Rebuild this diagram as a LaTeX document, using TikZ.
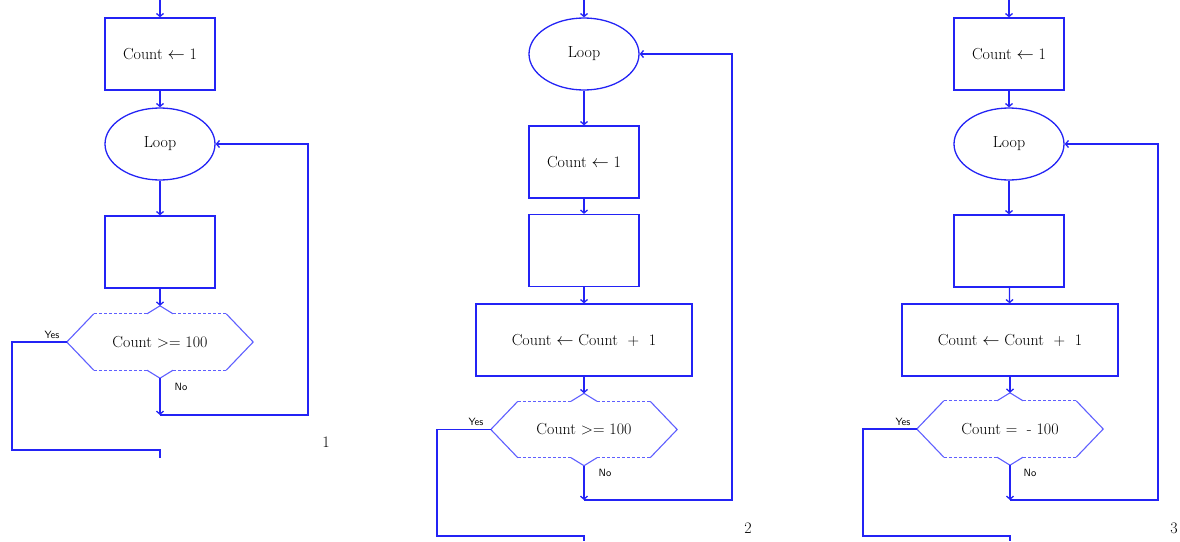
\documentclass[tikz,border=0pt]{standalone}
\usetikzlibrary{shapes.geometric,arrows.meta,calc}
\definecolor{ln}{RGB}{35,35,245}
\definecolor{hx}{RGB}{95,95,255}
\newcommand\drawhex[1]{%
 \draw[hx,line width=1pt,dash pattern=on 3pt off 2pt] (#1.north west) -- ($(#1.north)+(-13,0)$) ($(#1.north)+(13,0)$) -- (#1.north east) (#1.south west) -- ($(#1.south)+(-13,0)$) ($(#1.south)+(13,0)$) -- (#1.south east);
 \draw[hx,line width=1.1pt] (#1.north west) -- ($(#1.west)+(-27,0)$) -- (#1.south west) (#1.north east) -- ($(#1.east)+(27,0)$) -- (#1.south east) ($(#1.north)+(-13,0)$) -- ($(#1.north)+(0,-8)$) -- ($(#1.north)+(13,0)$) ($(#1.south)+(-13,0)$) -- ($(#1.south)+(0,8)$) -- ($(#1.south)+(13,0)$);
 \coordinate (#1t) at ($(#1.north)+(0,-8)$);
 \coordinate (#1b) at ($(#1.south)+(0,8)$);
 \coordinate (#1w) at ($(#1.west)+(-27,0)$);
}
\begin{document}
\begin{tikzpicture}[x=1pt,y=-1pt,
  lab/.style={font=\fontsize{16}{19}\selectfont},
  procbox/.style={draw=ln,line width=1.3pt,rectangle,inner sep=0pt,minimum width=110pt,minimum height=72pt,lab},
  widebox/.style={procbox,minimum width=216pt},
  oval/.style={draw=ln,line width=1.3pt,ellipse,inner sep=0pt,minimum width=110pt,minimum height=72pt,lab},
  hexa/.style={rectangle,inner sep=0pt,minimum width=132pt,minimum height=56pt,lab},
  con/.style={draw=ln,line width=1.3pt},
  arr/.style={con,-{Straight Barb[length=3pt,width=7pt]}},
  yn/.style={font=\sffamily\fontsize{10.5}{12}\selectfont,inner sep=0pt},
  num/.style={font=\fontsize{16}{19}\selectfont,inner sep=0pt}]
\useasboundingbox (0,0) rectangle (1180,541);

% ---------- diagram 1 ----------
\coordinate (s1) at (160,0);
\node[procbox] (a1) at (160,54) {Count $\leftarrow$ 1};
\node[oval] (l1) at (160,144) {Loop};
\node[procbox] (e1) at (160,252) {};
\node[hexa] (h1) at (160,342) {Count \textgreater= 100};
\drawhex{h1}
\draw[arr] (s1) -- (a1.north);
\draw[arr] (a1) -- (l1);
\draw[arr] (l1) -- (e1);
\draw[arr] (e1) -- (h1t);
\coordinate (n1) at (160,415);
\coordinate (r1) at (308,415);
\draw[arr] (h1b) -- (n1);
\draw[arr] (n1) -- (r1) |- (l1.east);
\coordinate (y1a) at (12,342);
\coordinate (y1b) at (12,450);
\coordinate (y1c) at (160,450);
\coordinate (y1d) at (160,458);
\draw[con] (h1w) -- (y1a) -- (y1b) -- (y1c) -- (y1d);
\node[yn] (ye1) at (52,335) {Yes};
\node[yn] (no1) at (181,387) {No};
\node[num] (nm1) at (326,442) {1};

% ---------- diagram 2 ----------
\coordinate (s2) at (584,0);
\node[oval] (l2) at (584,54) {Loop};
\node[procbox] (a2) at (584,162) {Count $\leftarrow$ 1};
\node[procbox] (e2) at (584,250.5) {};
\node[widebox] (w2) at (584,340) {Count $\leftarrow$ Count \ + \ 1};
\node[hexa] (h2) at (584,429.5) {Count \textgreater= 100};
\drawhex{h2}
\draw[arr] (s2) -- (l2.north);
\draw[arr] (l2) -- (a2);
\draw[arr] (a2) -- (e2);
\draw[arr] (e2) -- (w2);
\draw[arr] (w2) -- (h2t);
\coordinate (n2) at (584,500);
\coordinate (r2) at (732,500);
\draw[arr] (h2b) -- (n2);
\draw[arr] (n2) -- (r2) |- (l2.east);
\coordinate (y2a) at (437,429.5);
\coordinate (y2b) at (437,536);
\coordinate (y2c) at (584,536);
\coordinate (y2d) at (584,541);
\draw[con] (h2w) -- (y2a) -- (y2b) -- (y2c) -- (y2d);
\node[yn] (ye2) at (476,422) {Yes};
\node[yn] (no2) at (605,473) {No};
\node[num] (nm2) at (748,528) {2};

% ---------- diagram 3 ----------
\coordinate (s3) at (1009,0);
\node[procbox] (a3) at (1009,54) {Count $\leftarrow$ 1};
\node[oval] (l3) at (1009,144) {Loop};
\node[procbox] (e3) at (1009,251) {};
\node[widebox] (w3) at (1010,340) {Count $\leftarrow$ Count \ + \ 1};
\node[hexa] (h3) at (1010,429) {Count = \ - 100};
\drawhex{h3}
\draw[arr] (s3) -- (a3.north);
\draw[arr] (a3) -- (l3);
\draw[arr] (l3) -- (e3);
\draw[arr] (e3) -- (w3);
\draw[arr] (w3) -- (h3t);
\coordinate (n3) at (1010,500);
\coordinate (r3) at (1158,500);
\draw[arr] (h3b) -- (n3);
\draw[arr] (n3) -- (r3) |- (l3.east);
\coordinate (y3a) at (863,429);
\coordinate (y3b) at (863,536);
\coordinate (y3c) at (1010,536);
\coordinate (y3d) at (1010,541);
\draw[con] (h3w) -- (y3a) -- (y3b) -- (y3c) -- (y3d);
\node[yn] (ye3) at (903,422) {Yes};
\node[yn] (no3) at (1030,473) {No};
\node[num] (nm3) at (1174,528) {3};
\end{tikzpicture}
\end{document}
